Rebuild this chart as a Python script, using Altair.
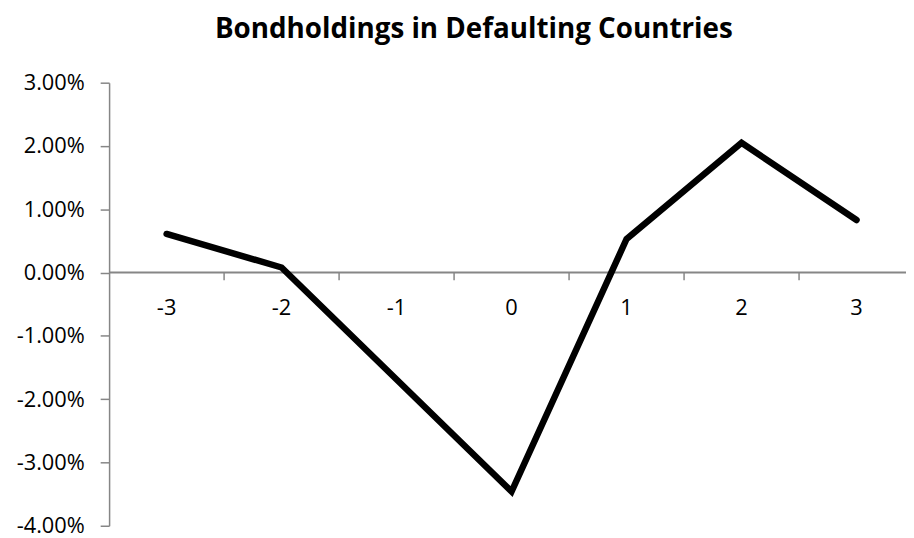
import altair as alt
import pandas as pd

categories = [-3, -2, -1, 0, 1, 2, 3]
values = [0.0061, 0.0008, -0.0169, -0.0346, 0.0053, 0.0205, 0.0083]
y_ticks = [0.03, 0.02, 0.01, 0.0, -0.01, -0.02, -0.03, -0.04]
x_tick_marks = [-2.5, -1.5, -0.5, 0.5, 1.5, 2.5]
title_text = "Bondholdings in Defaulting Countries"

FONT = "Open Sans"
GRAY = "#868686"

df = pd.DataFrame({"cat": categories, "val": values})
df_ticks = pd.DataFrame({"t": x_tick_marks, "y0": [0.0] * len(x_tick_marks), "y1": [-0.0012] * len(x_tick_marks)})
df_labels = pd.DataFrame({"cat": categories, "lab": [str(c) for c in categories], "y0": [0.0] * len(categories)})

xs = alt.Scale(domain=[-3.5, 3.43], nice=False, zero=False)
ys = alt.Scale(domain=[-0.04, 0.03], nice=False, zero=False)

yaxis = alt.Axis(values=y_ticks, labelExpr="replace(format(datum.value, '.2%'), '\u2212', '-')",
                 grid=False, domainColor=GRAY, tickColor=GRAY,
                 tickSize=9, labelFont=FONT, labelFontSize=22, labelColor="#000000",
                 labelPadding=16, title=None, domainWidth=1.5, tickWidth=1.5)

base_y = alt.Y("y0:Q", scale=ys, axis=yaxis)

zero_rule = alt.Chart(pd.DataFrame({"a": [-3.5], "b": [3.43], "y0": [0.0]})).mark_rule(
    color=GRAY, strokeWidth=2).encode(
    x=alt.X("a:Q", scale=xs, axis=None), x2="b:Q", y=base_y)

ticks = alt.Chart(df_ticks).mark_rule(color=GRAY, strokeWidth=1.5).encode(
    x=alt.X("t:Q", scale=xs, axis=None), y=alt.Y("y0:Q", scale=ys, axis=yaxis), y2="y1:Q")

labels = alt.Chart(df_labels).mark_text(font=FONT, fontSize=22, color="#000000", dy=36,
                                        baseline="middle", align="center").encode(
    x=alt.X("cat:Q", scale=xs, axis=None), y=alt.Y("y0:Q", scale=ys, axis=yaxis), text="lab:N")

line = alt.Chart(df).mark_line(color="#000000", strokeWidth=6.5, strokeCap="round", strokeJoin="miter").encode(
    x=alt.X("cat:Q", scale=xs, axis=None), y=alt.Y("val:Q", scale=ys, axis=yaxis))

chart = alt.layer(zero_rule, ticks, labels, line).properties(
    width=804, height=447,
    autosize=alt.AutoSizeParams(type="none"),
    padding={"left": 102, "top": 73, "right": 0, "bottom": 10},
    title=alt.TitleParams(title_text, font=FONT, fontSize=28, fontWeight="bold", color="#000000",
                          anchor="middle", frame="group", dx=-34, offset=28),
).configure_view(stroke=None)

chart.save("out.html", embed_options={"renderer": "svg", "actions": False})
